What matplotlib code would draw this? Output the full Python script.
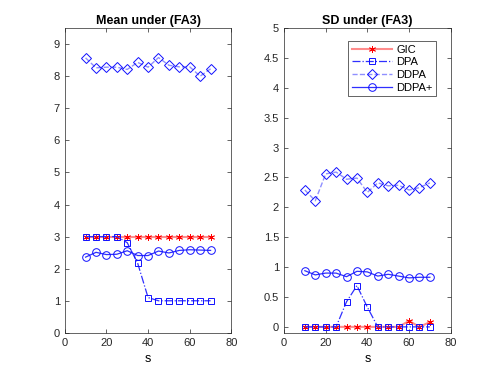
import matplotlib
matplotlib.use('Agg')
import matplotlib.pyplot as plt

plt.rcParams['font.family'] = ['Liberation Sans', 'DejaVu Sans']
plt.rcParams['font.size'] = 8

s = [10, 15, 20, 25, 30, 35, 40, 45, 50, 55, 60, 65, 70]

# mean values
mean_gic = [3, 3, 3, 3, 3, 3, 3, 3, 3, 3, 3, 3, 3]
mean_dpa = [3, 3, 3, 3, 2.81, 2.17, 1.10, 1, 1, 1, 1, 1, 1]
mean_ddpa = [8.57, 8.26, 8.28, 8.28, 8.21, 8.43, 8.28, 8.58, 8.34, 8.29, 8.29, 8.0, 8.23]
mean_ddpap = [2.36, 2.51, 2.44, 2.45, 2.56, 2.41, 2.41, 2.55, 2.49, 2.57, 2.59, 2.58, 2.57]

# sd values
sd_gic = [0, 0, 0, 0, 0, 0, 0, 0, 0, 0, 0.1, 0, 0.08]
sd_dpa = [0, 0, 0, 0, 0.42, 0.69, 0.33, 0, 0, 0, 0, 0, 0]
sd_ddpa = [2.29, 2.11, 2.56, 2.59, 2.47, 2.49, 2.25, 2.41, 2.36, 2.37, 2.29, 2.33, 2.41]
sd_ddpap = [0.94, 0.87, 0.90, 0.90, 0.84, 0.93, 0.92, 0.85, 0.88, 0.85, 0.82, 0.83, 0.83]

labels = ['GIC', 'DPA', 'DDPA', 'DDPA+']

fig = plt.figure(figsize=(4.98, 3.74), dpi=100)
ax1 = fig.add_axes([0.13, 0.11, 0.3347, 0.815])
ax2 = fig.add_axes([0.5703, 0.11, 0.3347, 0.815])

def draw(ax, gic, dpa, ddpa, ddpap):
    ax.plot(s, gic, '-', color=(1, 0, 0, 0.45), marker=(6, 2, 0), mec='red',
            mew=0.6, ms=5, lw=1.5, label=labels[0])
    ax.plot(s, dpa, linestyle='-.', color='#2f2fff', marker='s', mfc='none',
            mec='#1010ff', ms=4.5, lw=0.9, mew=0.7, label=labels[1])
    ax.plot(s, ddpa, linestyle='--', color=(0.2, 0.2, 1, 0.55), marker='D',
            mec='#1010ff', mfc='none', ms=5, lw=1.0, mew=0.7, label=labels[2])
    ax.plot(s, ddpap, linestyle='-', color='#2f2fff', marker='o', mfc='none',
            mec='#1010ff', ms=5.5, lw=0.9, mew=0.7, label=labels[3])
    ax.set_xlim(0, 80)
    ax.set_xticks([0, 20, 40, 60, 80])
    ax.set_xlabel('s', fontsize=9)
    ax.tick_params(direction='in', length=3, width=0.5, colors='#262626',
                   top=True, right=True, labelsize=8)
    for sp in ax.spines.values():
        sp.set_color('#262626')
        sp.set_linewidth(0.5)

draw(ax1, mean_gic, mean_dpa, mean_ddpa, mean_ddpap)
ax1.set_ylim(0, 9.5)
ax1.set_yticks(range(0, 10))
ax1.set_title('Mean under (FA3)', fontsize=9, fontweight='bold', pad=3)

draw(ax2, sd_gic, sd_dpa, sd_ddpa, sd_ddpap)
ax2.set_ylim(-0.1, 5)
ax2.set_yticks([0, 0.5, 1, 1.5, 2, 2.5, 3, 3.5, 4, 4.5, 5])
ax2.set_yticklabels(['0', '0.5', '1', '1.5', '2', '2.5', '3', '3.5', '4', '4.5', '5'])
ax2.set_title('SD under (FA3)', fontsize=9, fontweight='bold', pad=3)
leg = ax2.legend(loc='upper right', bbox_to_anchor=(0.945, 0.975), fontsize=8,
                 fancybox=False, framealpha=1, edgecolor='#262626',
                 handlelength=3.6, borderpad=0.3, labelspacing=0.25, handletextpad=0.4)
leg.get_frame().set_linewidth(0.5)

fig.savefig('out.png', dpi=100)
